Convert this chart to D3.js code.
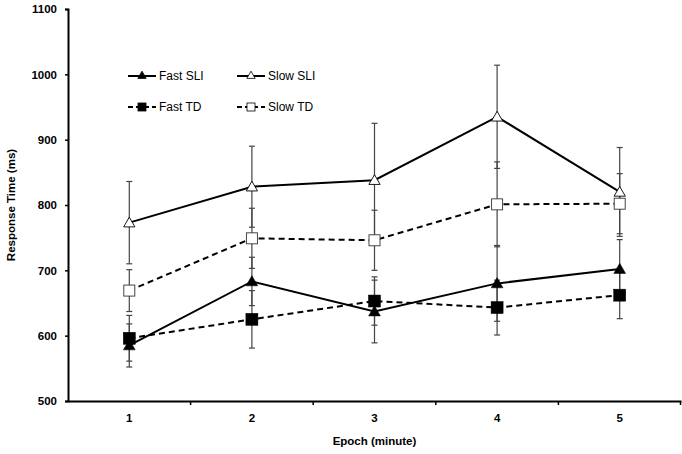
<!DOCTYPE html>
<html><head><meta charset="utf-8">
<script src="https://cdn.jsdelivr.net/npm/d3@7"></script>
<style>body{margin:0;background:#fff}svg{display:block}text{font-family:"Liberation Sans",Arial,sans-serif}</style>
</head><body><svg id="c" width="682" height="454"></svg>
<script>
const epochs = ["1","2","3","4","5"];
const yTicks = [500,600,700,800,900,1000,1100];
const fastSLI = [585, 683, 637, 680, 702];
const fastSLIErr = [33, 37, 48, 58, 45];
const slowSLI = [773, 828, 838, 935, 820];
const slowSLIErr = [63, 62, 87, 79, 68];
const fastTD = [596, 625, 653, 643, 662];
const fastTDErr = [35, 44, 37, 42, 36];
const slowTD = [669, 749, 746, 801, 802];
const slowTDErr = [32, 46, 46, 65, 46];

const series = [
  {name:"Slow SLI", vals:slowSLI, err:slowSLIErr, shape:"tri", fill:"#fff", dash:null},
  {name:"Slow TD", vals:slowTD, err:slowTDErr, shape:"sq", fill:"#fff", dash:"6,4"},
  {name:"Fast TD", vals:fastTD, err:fastTDErr, shape:"sq", fill:"#000", dash:"6,4"},
  {name:"Fast SLI", vals:fastSLI, err:fastSLIErr, shape:"tri", fill:"#000", dash:null}
];

const svg = d3.select("#c");
const L=68, R=681, T=9, B=401;
const x = d3.scaleBand().domain(epochs).range([L,R]);
const y = d3.scaleLinear().domain([500,1100]).range([B,T]);
const cx = d => x(d)+x.bandwidth()/2;

// error bars
series.forEach(s=>{
  const g = svg.append("g");
  s.vals.forEach((v,i)=>{
    const X = cx(epochs[i]);
    g.append("line").attr("x1",X).attr("x2",X).attr("y1",y(v-s.err[i])).attr("y2",y(v+s.err[i])).attr("stroke","#444").attr("stroke-width",1.2);
    [v-s.err[i], v+s.err[i]].forEach(e=>{
      g.append("line").attr("x1",X-3).attr("x2",X+3).attr("y1",y(e)).attr("y2",y(e)).attr("stroke","#444").attr("stroke-width",1.2);
    });
  });
});

// lines
series.forEach(s=>{
  const line = d3.line().x((d,i)=>cx(epochs[i])).y(d=>y(d));
  svg.append("path").attr("d",line(s.vals)).attr("fill","none").attr("stroke","#000").attr("stroke-width",2).attr("stroke-dasharray",s.dash);
});

function marker(g, s, X, Y){
  if(s.shape==="tri"){
    const sym = d3.symbol().type(d3.symbolTriangle).size(s.fill==="#000"?60:55);
    g.append("path").attr("d",sym()).attr("transform",`translate(${X},${Y+1})`).attr("fill",s.fill).attr("stroke","#000").attr("stroke-width",s.fill==="#000"?0.5:0.9);
  } else {
    const w = s.fill==="#000"?12:11;
    g.append("rect").attr("x",X-w/2).attr("y",Y-w/2).attr("width",w).attr("height",w).attr("fill",s.fill).attr("stroke",s.fill==="#000"?"#000":"#333").attr("stroke-width",s.fill==="#000"?0.5:0.9);
  }
}
series.forEach(s=>{
  const g = svg.append("g");
  s.vals.forEach((v,i)=>marker(g,s,cx(epochs[i]),y(v)));
});

// axes
const ya = svg.append("g").attr("transform",`translate(${L},0)`).call(d3.axisLeft(y).tickValues(yTicks).tickSize(3).tickPadding(8).tickFormat(d3.format("d")));
const xa = svg.append("g").attr("transform",`translate(0,${B})`).call(d3.axisBottom(x).tickSize(0).tickPadding(13));
[ya,xa].forEach(a=>{
  a.select(".domain").attr("stroke","#000").attr("stroke-width",2);
  a.selectAll(".tick line").attr("stroke","#000").attr("stroke-width",1.5);
  a.selectAll("text").attr("font-size",11.5).attr("font-weight","bold").attr("fill","#000").attr("font-family","Liberation Sans, Arial, sans-serif");
});
// x tick marks at band boundaries
xa.selectAll(".bnd").data(epochs.slice(1).concat(["end"])).enter().append("line")
  .attr("x1",d=>d==="end"?R-0.5:x(d)).attr("x2",d=>d==="end"?R-0.5:x(d)).attr("y1",0).attr("y2",4)
  .attr("stroke","#000").attr("stroke-width",1.5);

svg.append("text").attr("transform",`translate(15,${(T+B)/2}) rotate(-90)`).attr("text-anchor","middle")
  .attr("font-size",11.5).attr("font-weight","bold").text("Response Time (ms)");
svg.append("text").attr("x",(L+R)/2).attr("y",445).attr("text-anchor","middle")
  .attr("font-size",11.5).attr("font-weight","bold").text("Epoch (minute)");

// legend
const leg = [
  {s:series[3], x:128, y:76},
  {s:series[0], x:237, y:76},
  {s:series[2], x:128, y:107},
  {s:series[1], x:237, y:107}
];
leg.forEach(l=>{
  const g = svg.append("g");
  g.append("line").attr("x1",l.x).attr("x2",l.x+28).attr("y1",l.y).attr("y2",l.y).attr("stroke","#000").attr("stroke-width",2).attr("stroke-dasharray",l.s.dash?"5,3":null);
  const ms = {...l.s};
  if(ms.shape==="tri"){
    const sym = d3.symbol().type(d3.symbolTriangle).size(30);
    g.append("path").attr("d",sym()).attr("transform",`translate(${l.x+14},${l.y})`).attr("fill",ms.fill).attr("stroke","#000").attr("stroke-width",0.8);
  } else {
    g.append("rect").attr("x",l.x+10).attr("y",l.y-4).attr("width",8).attr("height",8).attr("fill",ms.fill).attr("stroke","#000").attr("stroke-width",0.8);
  }
  g.append("text").attr("x",l.x+31).attr("y",l.y+4).attr("font-size",12).text(l.s.name);
});
</script></body></html>
